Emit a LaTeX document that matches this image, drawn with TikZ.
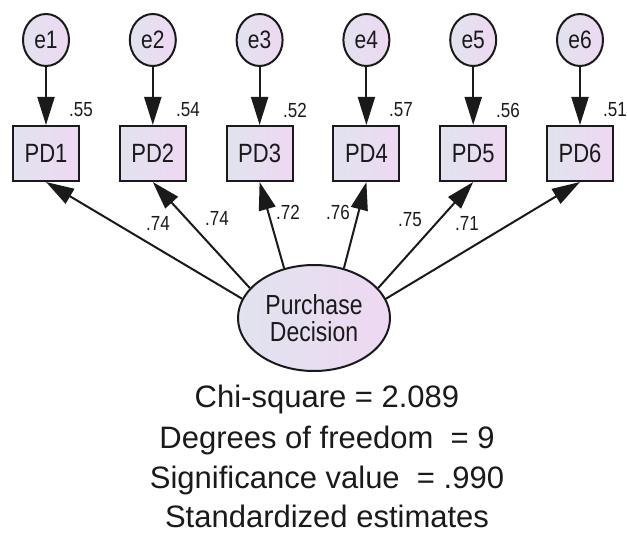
\documentclass[tikz,border=0pt]{standalone}
\usepackage{fontspec}
\setmainfont{Liberation Sans}
\usepackage{tikz}
\usepackage{xcolor}
\usetikzlibrary{shapes.geometric,arrows.meta}
\definecolor{shadeleftc}{HTML}{E1E3EF}
\definecolor{shaderightc}{HTML}{EED8F2}
\definecolor{inkc}{HTML}{1A1A1A}
\newcommand{\fsize}[1]{\fontsize{#1bp}{1.2\dimexpr#1bp\relax}\selectfont}
\newcommand{\tall}[1]{\scalebox{1}[1.2]{#1}}% labels are set a bit taller than wide
\tikzstyle{shaded} =[
    draw=inkc,
    line width=2bp,
    left color=shadeleftc,
    right color=shaderightc,
    text=inkc
    ]
\tikzstyle{observed} = [
    shaded,
    rectangle,
    minimum width=66bp,
    minimum height=55bp,
    inner sep=0pt,
    font=\fsize{22}
    ]
\tikzstyle{errorterm} = [
    shaded,
    ellipse,
    minimum width=46bp,
    minimum height=52bp,
    inner sep=0pt,
    font=\fsize{21}
    ]
\tikzstyle{latent} = [
    shaded,
    ellipse,
    minimum width=152bp,
    minimum height=106bp,
    inner sep=0pt,
    align=center,
    font=\fontsize{23bp}{27bp}\selectfont
    ]
\tikzstyle{path} = [
    draw=inkc,
    line width=2bp,
    -{Triangle[length=28bp,width=17bp]}
    ]
\tikzstyle{estimate} = [
    text=inkc,
    inner sep=0pt,
    font=\fsize{17}
    ]
\tikzstyle{fitline} = [
    text=inkc,
    inner sep=0pt,
    anchor=base,
    font=\fsize{31}
    ]

\begin{document}
\begin{tikzpicture}[x=1bp,y=-1bp]
\useasboundingbox (0,0) rectangle (627,534);

% error terms
\node[errorterm] (e1) at (46,40) {\tall{e1}};
\node[errorterm] (e2) at (152.8,40) {\tall{e2}};
\node[errorterm] (e3) at (259.6,40) {\tall{e3}};
\node[errorterm] (e4) at (366.4,40) {\tall{e4}};
\node[errorterm] (e5) at (473.2,40) {\tall{e5}};
\node[errorterm] (e6) at (580,40) {\tall{e6}};

% indicators
\node[observed] (PD1) at (46,153.5) {\tall{PD1}};
\node[observed] (PD2) at (152.8,153.5) {\tall{PD2}};
\node[observed] (PD3) at (259.6,153.5) {\tall{PD3}};
\node[observed] (PD4) at (366.4,153.5) {\tall{PD4}};
\node[observed] (PD5) at (473.2,153.5) {\tall{PD5}};
\node[observed] (PD6) at (580,153.5) {\tall{PD6}};

% latent factor
\node[latent] (PD) at (314,318) {\tall{Purchase}\\\tall{Decision}};

\draw[path] (e1) -- (PD1);
\draw[path] (e2) -- (PD2);
\draw[path] (e3) -- (PD3);
\draw[path] (e4) -- (PD4);
\draw[path] (e5) -- (PD5);
\draw[path] (e6) -- (PD6);

\draw[path] (PD.165) -- (PD1.south);
\draw[path] (PD.155) -- (PD2.south);
\draw[path] (PD.121) -- (PD3.south);
\draw[path] (PD.59) -- (PD4.south);
\draw[path] (PD.25) -- (PD5.south);
\draw[path] (PD.15) -- (PD6.south);

% squared multiple correlations
\node[estimate] (r1) at (81,110) {\tall{.55}};
\node[estimate] (r2) at (188,110) {\tall{.54}};
\node[estimate] (r3) at (295,110) {\tall{.52}};
\node[estimate] (r4) at (401,110) {\tall{.57}};
\node[estimate] (r5) at (508,110) {\tall{.56}};
\node[estimate] (r6) at (615,110) {\tall{.51}};

% loadings
\node[estimate] (l1) at (158,223) {\tall{.74}};
\node[estimate] (l2) at (217,218) {\tall{.74}};
\node[estimate] (l3) at (288,212) {\tall{.72}};
\node[estimate] (l4) at (338,212) {\tall{.76}};
\node[estimate] (l5) at (410,220) {\tall{.75}};
\node[estimate] (l6) at (467,223) {\tall{.71}};

% fit summary
\node[fitline] (chi) at (327,407) {Chi-square = 2.089};
\node[fitline] (dof) at (327,448) {Degrees of freedom\ \ = 9};
\node[fitline] (sig) at (327,488) {Significance value\ \ = .990};
\node[fitline] (std) at (327,527) {Standardized estimates};
\end{tikzpicture}
\end{document}
